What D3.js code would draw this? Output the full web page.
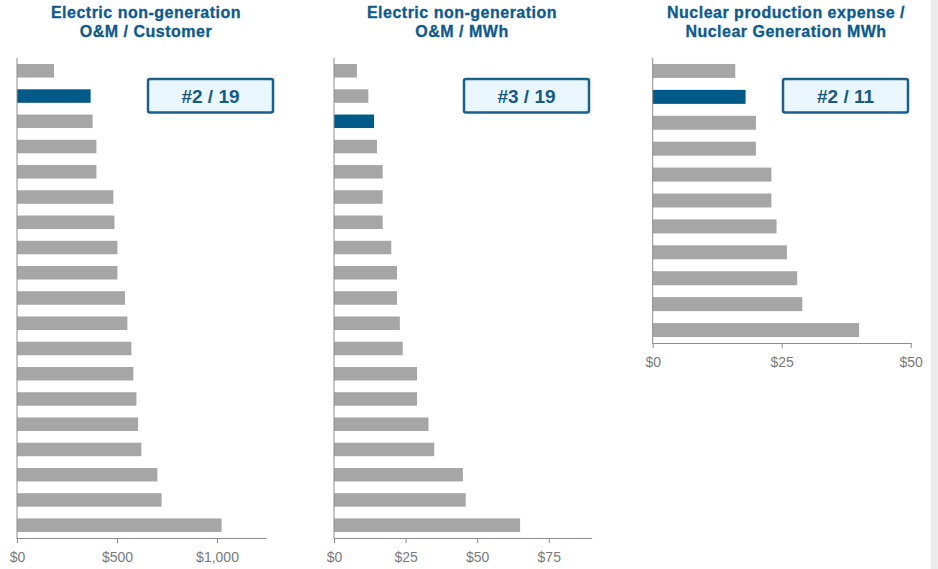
<!DOCTYPE html>
<html lang="en">
<head>
  <meta charset="UTF-8">
  <title>O&amp;M Benchmarks</title>
  <script src="https://d3js.org/d3.v7.min.js"></script>
  <style>
    body {
      margin: 0;
      background: #fff;
      font-family: "Liberation Sans", Arial, sans-serif;
    }
    .title {
      font-weight: bold;
      font-size: 16px;
      letter-spacing: 0.5px;
      fill: #0d5a8b;
      stroke: #0d5a8b;
      stroke-width: 0.3px;
    }
    .rank {
      font-weight: bold;
      font-size: 19px;
      fill: #175a85;
    }
    .x-axis text {
      font-family: "Liberation Sans Narrow", "Arial Narrow", "Liberation Sans", Arial, sans-serif;
      font-size: 14px;
      fill: #7a7a7a;
    }
    .x-axis path, .x-axis line, .y-line {
      stroke: #8c8c8c;
      stroke-width: 1;
    }
  </style>
</head>
<body>
  <div id="chart"></div>
  <script>
    // values, top bar first
    const customerCost = [185, 368, 378, 397, 397, 482, 487, 502, 502, 540, 552, 572, 582, 597, 605, 622, 702, 723, 1023];
    const mwhCost = [8, 12, 14, 15, 17, 17, 17, 20, 22, 22, 23, 24, 29, 29, 33, 35, 45, 46, 65];
    const nuclearCost = [16, 18, 20, 20, 23, 23, 24, 26, 28, 29, 40];

    const highlighted = [1, 2, 1];
    const ranks = ["#2 / 19", "#3 / 19", "#2 / 11"];
    const titles = [
      ["Electric non-generation", "O&M / Customer"],
      ["Electric non-generation", "O&M / MWh"],
      ["Nuclear production expense /", "Nuclear Generation MWh"]
    ];
    const tickValues = [[0, 500, 1000], [0, 25, 50, 75], [0, 25, 50]];
    const xMax = [1245, 90, 50];

    const width = 938;
    const height = 569;

    // layout of each panel
    const panels = [
      { values: customerCost, x0: 17, x1: 266, top: 58, bottom: 538, cx: 146, boxX: 147 },
      { values: mwhCost, x0: 334, x1: 591.7, top: 58, bottom: 538, cx: 462, boxX: 463 },
      { values: nuclearCost, x0: 652.7, x1: 910.7, top: 58, bottom: 343, cx: 786, boxX: 782 }
    ];

    const svg = d3.select("#chart")
      .append("svg")
      .attr("width", width)
      .attr("height", height);

    // grey strip at the right edge
    svg.append("rect")
      .attr("x", 931)
      .attr("y", 0)
      .attr("width", width - 931)
      .attr("height", height)
      .attr("fill", "#ececec");

    panels.forEach((p, i) => {
      const g = svg.append("g");

      const xScale = d3.scaleLinear()
        .domain([0, xMax[i]])
        .range([p.x0, p.x1]);

      const yScale = d3.scaleBand()
        .domain(d3.range(p.values.length))
        .range([p.top, p.bottom])
        .paddingInner(p.values.length > 12 ? 0.465 : 0.46)
        .paddingOuter(p.values.length > 12 ? 0.24 : 0.23);

      // title
      g.append("text")
        .attr("class", "title")
        .attr("text-anchor", "middle")
        .selectAll("tspan")
        .data(titles[i])
        .enter()
        .append("tspan")
        .attr("x", p.cx)
        .attr("y", (d, j) => 17.5 + j * 19.3)
        .text(d => d);

      // bars
      g.selectAll(".bar")
        .data(p.values)
        .enter()
        .append("rect")
        .attr("class", "bar")
        .attr("x", xScale(0))
        .attr("y", (d, j) => yScale(j))
        .attr("width", d => xScale(d) - xScale(0))
        .attr("height", yScale.bandwidth())
        .attr("fill", (d, j) => j === highlighted[i] ? "#005a87" : "#a6a6a6");

      // vertical axis line
      g.append("line")
        .attr("class", "y-line")
        .attr("x1", xScale(0))
        .attr("x2", xScale(0))
        .attr("y1", p.top)
        .attr("y2", p.bottom + 1);

      // x axis
      const xAxis = d3.axisBottom(xScale)
        .tickValues(tickValues[i])
        .tickSize(5)
        .tickSizeOuter(0)
        .tickPadding(5)
        .tickFormat(d => "$" + d3.format(",")(d));

      g.append("g")
        .attr("class", "x-axis")
        .attr("transform", `translate(0, ${p.bottom})`)
        .call(xAxis)
        .call(a => a.selectAll("text").attr("dy", "1em"));

      // rank box
      g.append("rect")
        .attr("x", p.boxX + 1)
        .attr("y", 79)
        .attr("width", 125)
        .attr("height", 33.5)
        .attr("rx", 2)
        .attr("fill", "#eaf6fe")
        .attr("stroke", "#1b5f8b")
        .attr("stroke-width", 2.5);

      g.append("text")
        .attr("class", "rank")
        .attr("x", p.boxX + 63.5)
        .attr("y", 103)
        .attr("text-anchor", "middle")
        .text(ranks[i]);
    });
  </script>
</body>
</html>
